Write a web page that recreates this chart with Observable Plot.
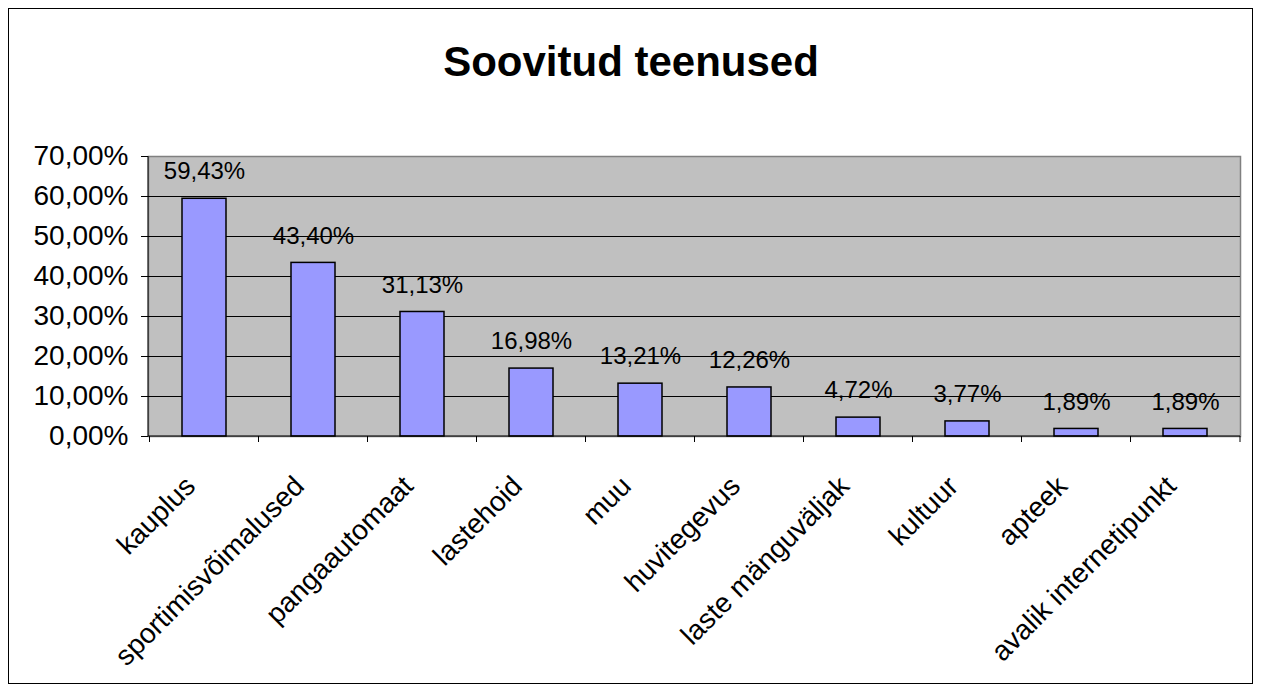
<!DOCTYPE html>
<html>
<head>
<meta charset="utf-8">
<script src="https://cdn.jsdelivr.net/npm/d3@7"></script>
<script src="https://cdn.jsdelivr.net/npm/@observablehq/plot@0.6"></script>
<style>
  html, body { margin: 0; padding: 0; background: #fff; }
  #wrap { position: relative; width: 1262px; height: 693px; overflow: hidden; font-family: "Liberation Sans", Arial, sans-serif; }
  #border { position: absolute; left: 8px; top: 8px; width: 1245px; height: 676px; border: 1px solid #000; box-sizing: border-box; pointer-events: none; }
  #title { position: absolute; left: 0; width: 1262px; top: 41px; text-align: center; font-weight: bold; font-size: 42px; line-height: 42px; color: #000; }
  #chart { position: absolute; left: 0; top: 0; }
</style>
</head>
<body>
<div id="wrap">
  <div id="chart"></div>
  <div id="border"></div>
  <div id="title">Soovitud teenused</div>
</div>
<script>
const categories = ["kauplus", "sportimisvõimalused", "pangaautomaat", "lastehoid", "muu", "huvitegevus", "laste mänguväljak", "kultuur", "apteek", "avalik internetipunkt"];
const values = [59.43, 43.40, 31.13, 16.98, 13.21, 12.26, 4.72, 3.77, 1.89, 1.89];
const yTicks = [0, 10, 20, 30, 40, 50, 60, 70];

const data = categories.map((c, i) => ({cat: c, val: values[i]}));
const fmt = v => v.toFixed(2).replace(".", ",") + "%";

const boundaryTicks = (index, scales, values, dims) => {
  const x = scales.x;
  const bw = x.bandwidth();
  const step = x.step();
  const g = d3.create("svg:g");
  const y0 = dims.height - dims.marginBottom;
  const xs = categories.map(c => x(c) - (step - bw) / 2);
  xs.push(dims.width - dims.marginRight);
  for (const px of xs) {
    g.append("line").attr("x1", px).attr("x2", px).attr("y1", y0).attr("y2", y0 + 6).attr("stroke", "#000").attr("stroke-width", 1);
  }
  g.append("line").attr("x1", dims.marginLeft).attr("x2", dims.width - dims.marginRight).attr("y1", y0).attr("y2", y0).attr("stroke", "#000");
  g.append("line").attr("x1", dims.marginLeft).attr("x2", dims.marginLeft).attr("y1", dims.marginTop).attr("y2", y0).attr("stroke", "#000");
  return g.node();
};

const chart = Plot.plot({
  width: 1262,
  height: 693,
  marginLeft: 148,
  marginRight: 22,
  marginTop: 156,
  marginBottom: 257,
  style: {fontFamily: "'Liberation Sans', Arial, sans-serif", color: "#000", background: "transparent"},
  x: {domain: categories, paddingInner: 0.6, paddingOuter: 0.3, align: 0.5},
  y: {domain: [0, 70]},
  marks: [
    Plot.frame({fill: "#C0C0C0", stroke: "#808080", strokeWidth: 1.5}),
    Plot.ruleY(yTicks.filter(t => t > 0 && t < 70), {stroke: "#000", strokeWidth: 1}),
    Plot.barY(data, {x: "cat", y: "val", fill: "#9999FF", stroke: "#000", strokeWidth: 1.5}),
    Plot.text(data, {x: "cat", y: "val", text: d => fmt(d.val), dy: -27, fontSize: 24, fill: "#000"}),
    Plot.axisY({ticks: yTicks, tickFormat: v => v.toFixed(2).replace(".", ",") + "%", tickSize: 7, tickPadding: 13, fontSize: 28, label: null, stroke: "#000"}),
    Plot.axisX({tickSize: 0, tickRotate: -45, tickPadding: 45, dx: -14, fontSize: 28, label: null}),
    boundaryTicks
  ]
});
document.getElementById("chart").appendChild(chart);
</script>
</body>
</html>
